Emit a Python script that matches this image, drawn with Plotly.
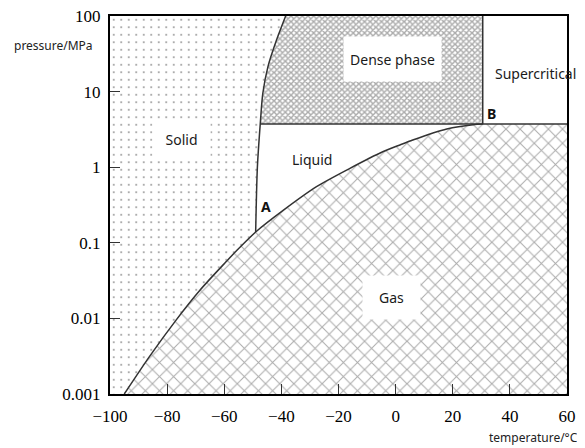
import plotly.graph_objects as go

# ---------------- data ----------------
x_ticks = [-100, -80, -60, -40, -20, 0, 20, 40, 60]
x_ticktext = ["\u2212100", "\u221280", "\u221260", "\u221240", "\u221220", "0", "20", "40", "60"]
y_ticks = [0.001, 0.01, 0.1, 1, 10, 100]
y_ticktext = ["0.001", "0.01", "0.1", "1", "10", "100"]

t_min, t_max = -100, 60
p_min, p_max = 0.001, 100

triple_T, triple_p = -49.0, 0.139      # point A
critical_T, critical_p = 30.5, 3.72    # point B

# sublimation curve (solid / gas), from the bottom edge up to A
sub_T = [-95.0, -86.2, -76.8, -68.6, -59.3, -55.3, -49.0]
sub_p = [0.001, 0.00312, 0.00957, 0.0234, 0.0565, 0.0815, 0.139]

# vapour-pressure curve (liquid / gas), from A to B
vap_T = [-49.0, -39.5, -27.7, -16.0, -4.5, 1.5, 6.0, 17.9, 27.1, 30.5]
vap_p = [0.139, 0.266, 0.552, 0.966, 1.60, 1.97, 2.29, 3.20, 3.65, 3.72]

# melting curve (solid / liquid), from A up to the top edge
melt_T = [-49.0, -48.4, -47.4, -46.5, -44.7, -41.7, -38.5]
melt_p = [0.139, 1.0, 3.72, 9.5, 21.4, 48.0, 100.0]

labels = ["Solid", "Dense phase", "Supercritical", "Liquid", "Gas"]
label_T = [-74.9, -1.2, 49.1, -29.4, -1.3]
label_logp = [0.373, 1.431, 1.233, 0.108, -1.717]

point_names = ["A", "B"]
point_T = [-45.5, 33.7]
point_logp = [-0.526, 0.704]

# ---------------- figure ----------------
fig = go.Figure()
line_col = "#333333"

# Solid region (dots)
solid_x = [t_min, t_min] + melt_T[::-1] + sub_T[::-1][1:] + [t_min]
solid_y = [p_min, p_max] + melt_p[::-1] + sub_p[::-1][1:] + [p_min]
fig.add_trace(go.Scatter(
    x=solid_x, y=solid_y, mode="lines", fill="toself",
    line=dict(width=0), fillcolor="white",
    fillpattern=dict(shape=".", size=7.5, solidity=0.06, fgcolor="#333333", bgcolor="white"),
    hoverinfo="skip", showlegend=False))

# Gas region (cross-hatch)
gas_x = sub_T + vap_T[1:] + [t_max, t_max, sub_T[0]]
gas_y = sub_p + vap_p[1:] + [critical_p, p_min, p_min]
fig.add_trace(go.Scatter(
    x=gas_x, y=gas_y, mode="lines", fill="toself",
    line=dict(width=0), fillcolor="white",
    fillpattern=dict(shape="x", size=10, solidity=0.2, fgcolor="#5a5a5a", bgcolor="white"),
    hoverinfo="skip", showlegend=False))

# Dense phase region (fine hatch)
dense_x = melt_T[2:] + [critical_T, critical_T, melt_T[2]]
dense_y = melt_p[2:] + [p_max, critical_p, melt_p[2]]
fig.add_trace(go.Scatter(
    x=dense_x, y=dense_y, mode="lines", fill="toself",
    line=dict(width=0), fillcolor="white",
    fillpattern=dict(shape="x", size=4, solidity=0.6, fgcolor="#5a5a5a", bgcolor="white"),
    hoverinfo="skip", showlegend=False))

# Boundary lines
fig.add_trace(go.Scatter(x=sub_T + vap_T[1:], y=sub_p + vap_p[1:], mode="lines",
                         line=dict(color=line_col, width=1.5, shape="spline", smoothing=0.8),
                         hoverinfo="skip", showlegend=False))
fig.add_trace(go.Scatter(x=melt_T, y=melt_p, mode="lines",
                         line=dict(color=line_col, width=1.5, shape="spline", smoothing=0.8),
                         hoverinfo="skip", showlegend=False))
fig.add_trace(go.Scatter(x=[melt_T[2], t_max], y=[critical_p, critical_p], mode="lines",
                         line=dict(color=line_col, width=1.5),
                         hoverinfo="skip", showlegend=False))
fig.add_trace(go.Scatter(x=[critical_T, critical_T], y=[critical_p, p_max], mode="lines",
                         line=dict(color=line_col, width=1.5),
                         hoverinfo="skip", showlegend=False))

# Region labels
box_sizes = {"Solid": (55, 36), "Dense phase": (95, 42), "Gas": (55, 41)}
for name, tx, ty in zip(labels, label_T, label_logp):
    kw = {}
    if name in box_sizes:
        w, h = box_sizes[name]
        kw = dict(width=w, height=h, bgcolor="white")
    fig.add_annotation(x=tx, y=ty, xref="x", yref="y", text=name, showarrow=False,
                       font=dict(family="Noto Sans", size=14, color="#1a1a1a"), **kw)

for name, tx, ty in zip(point_names, point_T, point_logp):
    fig.add_annotation(x=tx, y=ty, xref="x", yref="y", text="<b>%s</b>" % name, showarrow=False,
                       font=dict(family="Noto Sans", size=14, color="#111111"))

# Axis titles
fig.add_annotation(x=-0.032, y=0.921, xref="paper", yref="paper", text="pressure/MPa",
                   showarrow=False, xanchor="right", yanchor="middle",
                   font=dict(family="Noto Sans", size=12, color="#222222"))
fig.add_annotation(x=1.0285, y=-0.116, xref="paper", yref="paper", text="temperature/\u00b0C",
                   showarrow=False, xanchor="right", yanchor="middle",
                   font=dict(family="Noto Sans", size=12, color="#222222"))

axis_common = dict(showline=True, linewidth=2, linecolor="black", mirror=True,
                   ticks="inside", ticklen=10, tickwidth=1, tickcolor="#333333",
                   showgrid=False, zeroline=False, automargin=False,
                   ticklabeloverflow="allow",
                   tickfont=dict(family="Liberation Serif", size=17, color="black"))

fig.update_xaxes(range=[t_min, t_max], tickvals=x_ticks, ticktext=x_ticktext,
                 ticklabelstandoff=6, **axis_common)
fig.update_yaxes(type="log", range=[-3, 2], tickvals=y_ticks, ticktext=y_ticktext,
                 ticklabelstandoff=4, **axis_common)

fig.update_layout(width=577, height=440, autosize=False,
                  margin=dict(l=102, r=18, t=8, b=54),
                  plot_bgcolor="white", paper_bgcolor="white")

fig.write_html("out.html")
